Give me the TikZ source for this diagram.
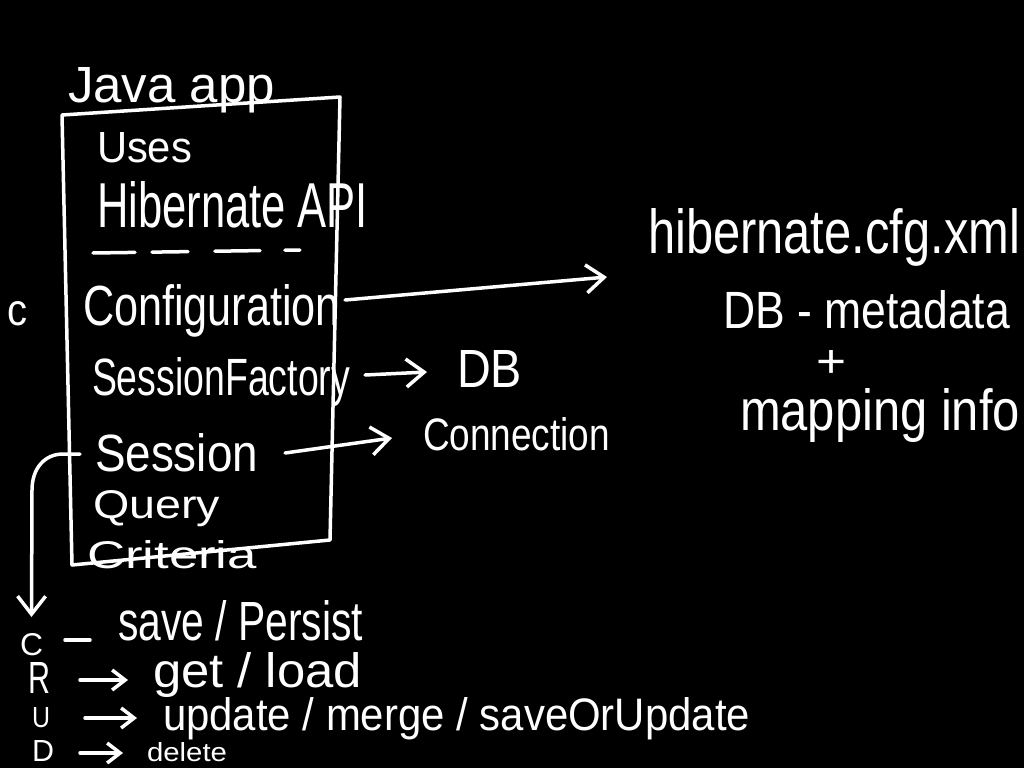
\documentclass[tikz,border=0pt]{standalone}
\usepackage{fontspec}
\setmainfont{Liberation Sans}
\usetikzlibrary{arrows.meta}
\newcommand\hw[3]{\resizebox{#1pt}{#2pt}{#3}}
\begin{document}
\begin{tikzpicture}[x=1pt,y=-1pt,
  txt/.style={text=white, inner sep=0pt, outer sep=0pt, anchor=base west},
  stroke/.style={draw=white, line width=3.5pt, line cap=round, line join=round},
  arr/.style={stroke, -{Straight Barb[length=18pt,width=28pt]}},
  sarr/.style={stroke, -{Straight Barb[length=13pt,width=20pt]}}]
\fill[black] (0,0) rectangle (1024,768);
\useasboundingbox (0,0) rectangle (1024,768);

% box
\draw[stroke] (62,115) -- (340,97) -- (330,540) -- (72,565) -- cycle;
\draw[stroke, dash pattern=on 42pt off 17pt on 36pt off 27pt on 45pt off 25pt on 15pt off 200pt] (93,253) -- (300,250);

% texts
\node[txt] (java) at (68,102) {\hw{207}{35}{Java app}};
\node[txt] (uses) at (97,162) {\hw{95}{30}{Uses}};
\node[txt] (api) at (97,227) {\hw{271}{46}{Hibernate API}};
\node[txt] (c) at (7,325) {\hw{20}{24}{c}};
\node[txt] (cfg) at (83,325) {\hw{257}{41}{Configuration}};
\node[txt] (sf) at (92,395) {\hw{258}{38}{SessionFactory}};
\node[txt] (session) at (95,471) {\hw{163}{38}{Session}};
\node[txt] (query) at (93,518) {\hw{127}{28}{Query}};
\node[txt] (crit) at (87,568) {\hw{170}{28}{Criteria}};
\node[txt] (db) at (457,387) {\hw{65}{37}{DB}};
\node[txt] (conn) at (423,450) {\hw{187}{33}{Connection}};
\node[txt] (hib) at (648,253) {\hw{372}{45}{hibernate.cfg.xml}};
\node[txt] (meta) at (723,328) {\hw{287}{38}{DB - metadata}};
\node[txt, anchor=center] (plus) at (831,364) {\hw{30}{27}{+}};
\node[txt] (map) at (740,430) {\hw{280}{42}{mapping info}};
\node[txt] (cC) at (20,655) {\hw{23}{22}{C}};
\node[txt] (save) at (118,640) {\hw{245}{40}{save / Persist}};
\node[txt] (R) at (28,693) {\hw{22}{31}{R}};
\node[txt] (get) at (153,687) {\hw{209}{35}{get / load}};
\node[txt] (U) at (32,727) {\hw{18}{20}{U}};
\node[txt] (upd) at (163,730) {\hw{587}{33}{update / merge / saveOrUpdate}};
\node[txt] (D) at (32,761) {\hw{22}{21}{D}};
\node[txt] (del) at (147,761) {\hw{80}{19}{delete}};

% connectors
\draw[arr] ([xshift=5pt,yshift=-16pt]cfg.north east) -- ([xshift=-41pt,yshift=-24pt]hib.base west);
\draw[arr] ([xshift=15pt,yshift=20pt]sf.base east) -- ([xshift=-30pt,yshift=15pt]db.base west);
\draw[arr] ([xshift=27pt,yshift=18pt]session.base east) -- ([xshift=-31pt,yshift=12pt]conn.base west);
\coordinate (bend) at (32,490);
\draw[arr] ([xshift=-15pt,yshift=17pt]session.base west) -- (63,454) .. controls (45,454) and (32,468) .. (bend) -- ([yshift=16pt]cC.north);
\draw[stroke] ([xshift=22pt,yshift=15pt]cC.base east) -- ([xshift=-28pt]save.base west);
\draw[sarr] ([xshift=30pt,yshift=13pt]R.base east) -- ([xshift=-25pt,yshift=7pt]get.base west);
\draw[sarr] ([xshift=35pt,yshift=9pt]U.base east) -- ([xshift=-26pt,yshift=12pt]upd.base west);
\draw[sarr] ([xshift=26pt,yshift=8pt]D.base east) -- ([xshift=-24pt,yshift=8pt]del.base west);
\end{tikzpicture}
\end{document}
